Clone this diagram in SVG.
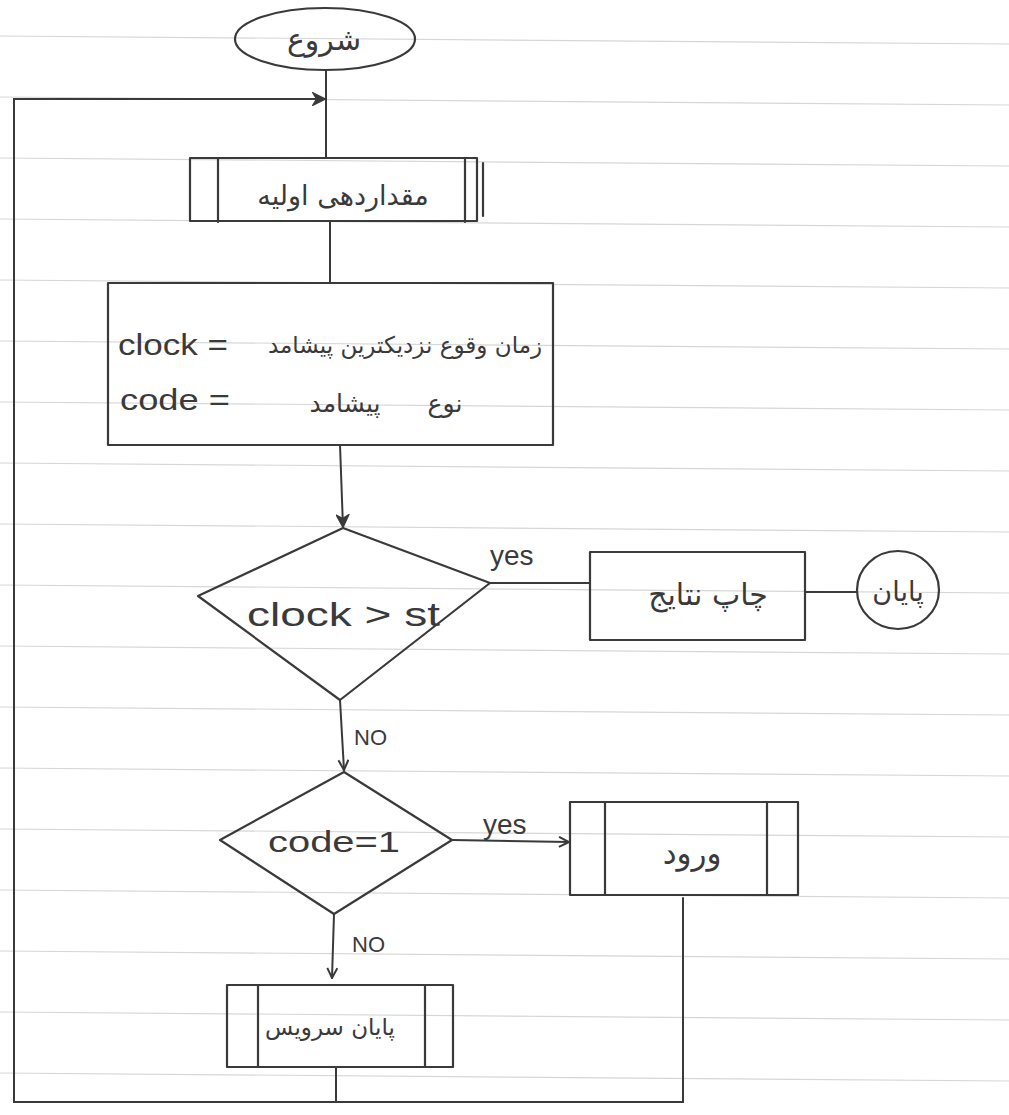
<svg xmlns="http://www.w3.org/2000/svg" width="1009" height="1115" viewBox="0 0 1009 1115">
<defs>
<style>
.rule{stroke:#d6d6d6;stroke-width:1.2}
.sh{fill:none;stroke:#3a3a3a;stroke-width:2.2;stroke-linejoin:round;stroke-linecap:round}
.ln{fill:none;stroke:#3a3a3a;stroke-width:2;stroke-linecap:round}
.fa{font-family:"DejaVu Sans",sans-serif;fill:#3a3a3a;text-anchor:middle;direction:rtl}
.la{font-family:"Liberation Sans","DejaVu Sans",sans-serif;fill:#3a3a3a}
</style>
<marker id="ah" viewBox="0 0 12 12" refX="11" refY="6" markerWidth="12" markerHeight="12" markerUnits="userSpaceOnUse" orient="auto">
<path d="M1,1 L11,6 L1,11" fill="none" stroke="#3a3a3a" stroke-width="2"/>
</marker>
<marker id="ahf" viewBox="0 0 12 12" refX="11" refY="6" markerWidth="14" markerHeight="14" markerUnits="userSpaceOnUse" orient="auto">
<path d="M1,1 L11,6 L1,11 L4,6 Z" fill="#3a3a3a" stroke="#3a3a3a" stroke-width="1.5"/>
</marker>
</defs>
<rect width="1009" height="1115" fill="#fff"/>
<g id="paper">
<line class="rule" x1="0" y1="36" x2="1009" y2="44"/>
<line class="rule" x1="0" y1="97" x2="1009" y2="105"/>
<line class="rule" x1="0" y1="158" x2="1009" y2="166"/>
<line class="rule" x1="0" y1="219" x2="1009" y2="227"/>
<line class="rule" x1="0" y1="280" x2="1009" y2="288"/>
<line class="rule" x1="0" y1="341" x2="1009" y2="349"/>
<line class="rule" x1="0" y1="402" x2="1009" y2="410"/>
<line class="rule" x1="0" y1="463" x2="1009" y2="471"/>
<line class="rule" x1="0" y1="524" x2="1009" y2="532"/>
<line class="rule" x1="0" y1="585" x2="1009" y2="593"/>
<line class="rule" x1="0" y1="646" x2="1009" y2="654"/>
<line class="rule" x1="0" y1="707" x2="1009" y2="715"/>
<line class="rule" x1="0" y1="768" x2="1009" y2="776"/>
<line class="rule" x1="0" y1="829" x2="1009" y2="837"/>
<line class="rule" x1="0" y1="890" x2="1009" y2="898"/>
<line class="rule" x1="0" y1="951" x2="1009" y2="959"/>
<line class="rule" x1="0" y1="1012" x2="1009" y2="1020"/>
<line class="rule" x1="0" y1="1073" x2="1009" y2="1081"/>
</g>
<g id="connectors">
<line class="ln" x1="326" y1="70" x2="326" y2="158"/>
<path class="ln" d="M683,898 V1102 H14 V99 H325" marker-end="url(#ahf)"/>
<line class="ln" x1="336" y1="1067" x2="336" y2="1102"/>
<line class="ln" x1="330" y1="221" x2="330" y2="283"/>
<line class="ln" x1="340" y1="445" x2="343" y2="527" marker-end="url(#ahf)"/>
<line class="ln" x1="490" y1="583" x2="590" y2="583"/>
<line class="ln" x1="805" y1="592" x2="857" y2="592"/>
<line class="ln" x1="340" y1="700" x2="344" y2="770" marker-end="url(#ah)"/>
<line class="ln" x1="452" y1="840" x2="569" y2="842" marker-end="url(#ah)"/>
<line class="ln" x1="334" y1="914" x2="332" y2="978" marker-end="url(#ah)"/>
<text class="la" x="490" y="565" font-size="28">yes</text>
<text class="la" x="354" y="745" font-size="22">NO</text>
<text class="la" x="483" y="834" font-size="28">yes</text>
<text class="la" x="352" y="952" font-size="22">NO</text>
</g>
<g id="start">
<ellipse class="sh" cx="325" cy="39" rx="90" ry="31"/>
<text class="fa" x="324" y="50" font-size="30">شروع</text>
</g>
<g id="init">
<rect class="sh" x="190" y="158" width="287" height="63"/>
<line class="sh" x1="218" y1="158" x2="218" y2="222"/>
<line class="sh" x1="465" y1="158" x2="465" y2="222"/>
<line class="sh" x1="483" y1="163" x2="483" y2="216"/>
<text class="fa" x="343" y="205" font-size="27">مقداردهی اولیه</text>
</g>
<g id="assign">
<rect class="sh" x="108" y="283" width="445" height="162"/>
<text class="la" x="118" y="355" font-size="30" textLength="110" lengthAdjust="spacingAndGlyphs">clock =</text>
<text class="fa" x="405" y="353" font-size="23">زمان وقوع نزدیکترین پیشامد</text>
<text class="la" x="120" y="410" font-size="30" textLength="110" lengthAdjust="spacingAndGlyphs">code =</text>
<text class="fa" x="445" y="412" font-size="25">نوع</text>
<text class="fa" x="345" y="412" font-size="25">پیشامد</text>
</g>
<g id="dec1">
<polygon class="sh" points="343,528 490,583 340,700 198,596"/>
<text class="la" x="247" y="626" font-size="34" textLength="193" lengthAdjust="spacingAndGlyphs">clock &gt; st</text>
</g>
<g id="print">
<rect class="sh" x="590" y="552" width="215" height="88"/>
<text class="fa" x="708" y="605" font-size="30">چاپ نتایج</text>
</g>
<g id="end">
<ellipse class="sh" cx="898" cy="590" rx="41" ry="39"/>
<text class="fa" x="898" y="601" font-size="27">پایان</text>
</g>
<g id="dec2">
<polygon class="sh" points="344,772 452,840 334,914 220,840"/>
<text class="la" x="268" y="852" font-size="30" textLength="132" lengthAdjust="spacingAndGlyphs">code=1</text>
</g>
<g id="arrival">
<rect class="sh" x="570" y="802" width="228" height="93"/>
<line class="sh" x1="605" y1="802" x2="605" y2="895"/>
<line class="sh" x1="767" y1="802" x2="767" y2="895"/>
<text class="fa" x="692" y="864" font-size="31">ورود</text>
</g>
<g id="departure">
<rect class="sh" x="227" y="985" width="226" height="82"/>
<line class="sh" x1="258" y1="985" x2="258" y2="1067"/>
<line class="sh" x1="425" y1="985" x2="425" y2="1067"/>
<text class="fa" x="330" y="1035" font-size="23">پایان سرویس</text>
</g>
</svg>
